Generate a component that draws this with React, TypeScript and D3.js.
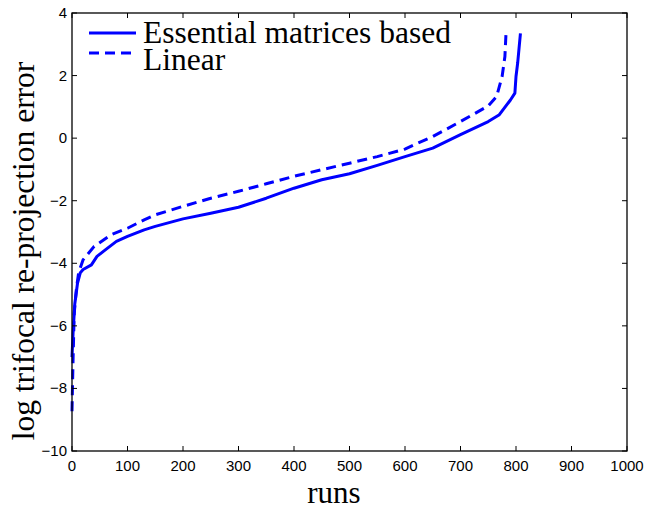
import * as d3 from 'd3';

// sorted runs vs log error
const essentialRuns = [0, 2, 5, 10, 15, 20, 35, 45, 60, 80, 100, 130, 150, 200, 250, 300, 350, 400, 450, 500, 550, 600, 650, 700, 750, 770, 790, 798, 800, 803, 808];
const essentialErr = [-7.0, -6.2, -5.3, -4.63, -4.3, -4.2, -4.05, -3.78, -3.57, -3.3, -3.14, -2.93, -2.82, -2.58, -2.4, -2.21, -1.92, -1.6, -1.33, -1.14, -0.87, -0.59, -0.32, 0.11, 0.53, 0.75, 1.22, 1.44, 1.97, 2.4, 3.35];

const linearRuns = [0, 2, 4, 8, 12, 20, 40, 70, 100, 130, 150, 200, 250, 300, 350, 400, 450, 500, 550, 600, 620, 650, 700, 750, 765, 775, 780, 782];
const linearErr = [-8.73, -7.0, -5.6, -4.8, -4.3, -3.89, -3.46, -3.09, -2.88, -2.61, -2.45, -2.18, -1.92, -1.7, -1.46, -1.22, -1.01, -0.8, -0.59, -0.35, -0.18, 0.05, 0.53, 1.03, 1.33, 1.97, 2.61, 3.35];

const xTicks = [0, 100, 200, 300, 400, 500, 600, 700, 800, 900, 1000];
const yTicks = [-10, -8, -6, -4, -2, 0, 2, 4];

const legendLabels = ['Essential matrices based', 'Linear'];

const W = 647;
const H = 515;
const left = 72;
const right = 627;
const top = 13;
const bottom = 451;

const fmt = (v: number) => (v < 0 ? '\u2212' + Math.abs(v) : String(v));

export default function App() {
  const x = d3.scaleLinear().domain([0, 1000]).range([left, right]);
  const y = d3.scaleLinear().domain([-10, 4]).range([bottom, top]);

  const line = d3.line<[number, number]>()
    .x(d => x(d[0]))
    .y(d => y(d[1]));

  const solid = line(essentialRuns.map((r, i) => [r, essentialErr[i]] as [number, number])) || '';
  const dashed = line(linearRuns.map((r, i) => [r, linearErr[i]] as [number, number])) || '';

  const tickFont = "'Liberation Sans', Arial, sans-serif";
  const serif = "'Liberation Serif', 'Times New Roman', serif";

  return (
    <svg width={W} height={H} style={{ position: 'absolute', left: 0, top: 0, background: '#fff' }}>
      <path d={solid} fill="none" stroke="#0000ff" strokeWidth={3} strokeLinejoin="round" />
      <path d={dashed} fill="none" stroke="#0000ff" strokeWidth={3} strokeDasharray="10 6" />

      {/* frame */}
      <rect x={left} y={top} width={right - left} height={bottom - top} fill="none" stroke="#000" strokeWidth={1.3} />

      {xTicks.map(t => (
        <g key={'x' + t}>
          <line x1={x(t)} x2={x(t)} y1={bottom} y2={bottom - 5} stroke="#000" />
          <line x1={x(t)} x2={x(t)} y1={top} y2={top + 5} stroke="#000" />
          <text x={x(t)} y={471} textAnchor="middle" fontFamily={tickFont} fontSize={15} fill="#000">{fmt(t)}</text>
        </g>
      ))}
      {yTicks.map(t => (
        <g key={'y' + t}>
          <line x1={left} x2={left + 5} y1={y(t)} y2={y(t)} stroke="#000" />
          <line x1={right} x2={right - 5} y1={y(t)} y2={y(t)} stroke="#000" />
          <text x={67} y={y(t) + 5} textAnchor="end" fontFamily={tickFont} fontSize={15} fill="#000">{fmt(t)}</text>
        </g>
      ))}

      {/* legend */}
      <line x1={89} x2={136} y1={33} y2={33} stroke="#0000ff" strokeWidth={3} />
      <line x1={89} x2={136} y1={53} y2={53} stroke="#0000ff" strokeWidth={3} strokeDasharray="10 6" />
      <text x={143} y={43} fontFamily={serif} fontSize={31.5} fill="#000">{legendLabels[0]}</text>
      <text x={143} y={70} fontFamily={serif} fontSize={31.5} fill="#000">{legendLabels[1]}</text>

      <text x={334} y={503} textAnchor="middle" fontFamily={serif} fontSize={31} fill="#000">runs</text>
      <text transform={`translate(34, 251) rotate(-90)`} textAnchor="middle" fontFamily={serif} fontSize={31.5} fill="#000">log trifocal re-projection error</text>
    </svg>
  );
}
